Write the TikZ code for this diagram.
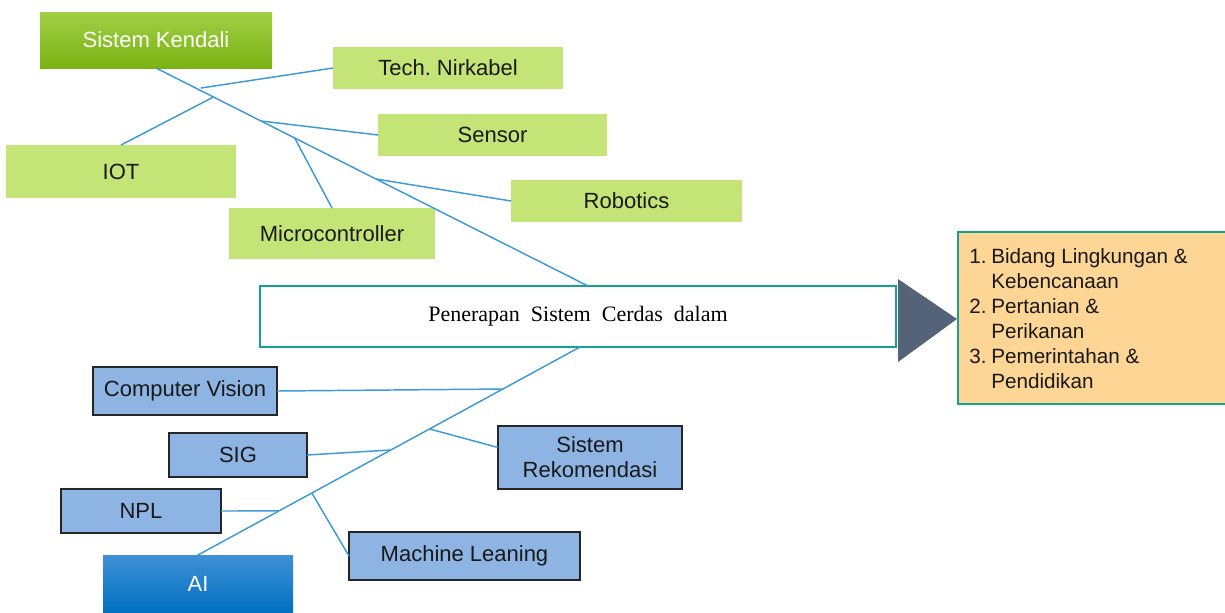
\documentclass[tikz,border=0pt]{standalone}
\usepackage{fontspec}
\setmainfont{Liberation Sans}
\newfontfamily\serifm{Liberation Serif}
\usetikzlibrary{calc}
\definecolor{lgreen}{RGB}{196,228,120}
\definecolor{lblue}{RGB}{142,180,227}
\definecolor{wire}{RGB}{62,154,214}
\definecolor{teal}{RGB}{22,160,142}
\definecolor{slate}{RGB}{84,99,120}
\definecolor{peach}{RGB}{253,214,150}
\definecolor{dark}{RGB}{38,38,38}
\tikzset{
  base/.style={anchor=north west, inner sep=0pt, outer sep=0pt, align=center, font=\fontsize{16.5}{18.75}\selectfont},
  gbox/.style={base, fill=lgreen, text=black!90},
  bbox/.style={base, fill=lblue, draw=dark, line width=1.5pt, text=black!90},
  wireline/.style={draw=wire, line width=1.1pt},
}
\begin{document}
\begin{tikzpicture}[x=0.75pt,y=-0.75pt]
\useasboundingbox (0,0) rectangle (1225,612);
% upper group
\node[base, minimum width=174pt, minimum height=42pt, top color={rgb,255:red,162;green,207;blue,70}, bottom color={rgb,255:red,122;green,178;blue,18}, text=white] (SK) at (40,12) {Sistem Kendali};
\node[gbox, minimum width=172.5pt, minimum height=31.5pt] (TN) at (333,47) {Tech.\ Nirkabel};
\node[gbox, minimum width=171.75pt, minimum height=31.5pt] (SE) at (378,114) {Sensor};
\node[gbox, minimum width=172.5pt, minimum height=39.75pt] (IOT) at (6,145) {IOT};
\node[gbox, minimum width=173.25pt, minimum height=31.5pt] (RO) at (511,180) {Robotics};
\node[gbox, minimum width=154.5pt, minimum height=38.25pt] (MC) at (229,208) {Microcontroller};
% main box
\node[base, minimum width=477pt, minimum height=45.75pt, draw=teal, line width=2pt, fill=white, font=\serifm\fontsize{16.5}{18}\selectfont] (M) at (260,286) {Penerapan\ \ Sistem\ \ Cerdas\ \ dalam};
\fill[slate] (898,279) -- (957,319) -- (898,362) -- cycle;
% results
\node[base, minimum width=204pt, minimum height=129pt, draw=teal, line width=2pt, fill=peach] (R) at (958,232) {};
\node[anchor=north west, inner sep=0pt, align=left, text=black!90, font=\fontsize{15.5}{18.75}\selectfont] (RT) at (969,248) {%
\makebox[16.5pt][l]{1.}Bidang Lingkungan \&\\
\hspace*{16.5pt}Kebencanaan\\
\makebox[16.5pt][l]{2.}Pertanian \&\\
\hspace*{16.5pt}Perikanan\\
\makebox[16.5pt][l]{3.}Pemerintahan \&\\
\hspace*{16.5pt}Pendidikan};
% lower group
\node[bbox, minimum width=138pt, minimum height=36pt] (CV) at (93,367) {Computer Vision};
\node[bbox, minimum width=103.5pt, minimum height=33pt] (SIG) at (169,433) {SIG};
\node[bbox, minimum width=138pt, minimum height=47.25pt] (SR) at (498,426) {Sistem\\Rekomendasi};
\node[bbox, minimum width=120pt, minimum height=33pt] (NPL) at (61,489) {NPL};
\node[bbox, minimum width=173.25pt, minimum height=36pt] (ML) at (349,532) {Machine Leaning};
\node[base, minimum width=142.5pt, minimum height=42.75pt, top color={rgb,255:red,64;green,145;blue,214}, bottom color={rgb,255:red,0;green,112;blue,192}, text=white] (AI) at (103,555) {AI};
% upper spine
\coordinate (mtop) at ($(M.north)+(10,0)$);
\draw[wireline] (SK.south) -- (mtop);
\coordinate (j1) at ($(SK.south)!0.092!(mtop)$);
\coordinate (j2) at ($(SK.south)!0.133!(mtop)$);
\coordinate (j3) at ($(SK.south)!0.243!(mtop)$);
\coordinate (j4) at ($(SK.south)!0.321!(mtop)$);
\coordinate (j5) at ($(SK.south)!0.509!(mtop)$);
\draw[wireline] (TN.west) -- ($(j1)+(5,0)$);
\draw[wireline] (IOT.north) -- (j2);
\draw[wireline] (SE.west) -- (j3);
\draw[wireline] (MC.north) -- (j4);
\draw[wireline] (RO.west) -- (j5);
% lower spine
\coordinate (mbot) at ($(M.south)+(2,0)$);
\draw[wireline] (mbot) -- (AI.north);
\coordinate (k1) at ($(mbot)!0.202!(AI.north)$);
\coordinate (k2) at ($(mbot)!0.394!(AI.north)$);
\coordinate (k3) at ($(mbot)!0.495!(AI.north)$);
\coordinate (k4) at ($(mbot)!0.702!(AI.north)$);
\coordinate (k5) at ($(mbot)!0.788!(AI.north)$);
\draw[wireline] (CV.east) -- (k1);
\draw[wireline] ($(SR.west)+(0,-10)$) -- (k2);
\draw[wireline] (SIG.east) -- (k3);
\draw[wireline] (ML.west) -- (k4);
\draw[wireline] (NPL.east) -- (k5);
\end{tikzpicture}
\end{document}
